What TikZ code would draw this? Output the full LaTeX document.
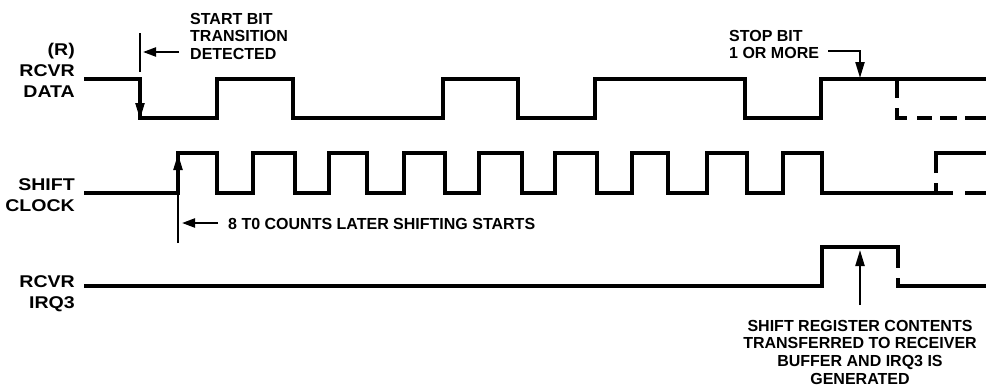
\documentclass[tikz,border=0pt]{standalone}
\usepackage{fontspec}
\setmainfont{Liberation Sans}
\newfontfamily\labfont{Liberation Sans}[FakeStretch=1.15]
\usetikzlibrary{arrows.meta}
\begin{document}
\begin{tikzpicture}[x=1pt,y=-1pt,
  wave/.style={line width=4pt},
  pointer/.style={line width=2.2pt},
  tipv/.style={-{Triangle[length=16pt,width=9pt]}},
  tiph/.style={-{Triangle[length=13pt,width=9pt]}},
  lab/.style={font=\labfont\bfseries\fontsize{17}{21}\selectfont, inner sep=0pt, align=right, anchor=north east},
  note/.style={font=\bfseries\fontsize{16}{17.6}\selectfont, inner sep=0pt, align=left, anchor=north west}]
\useasboundingbox (0,0) rectangle (986,386);

% labels
\node[lab] (ldata) at (75,43) {(R)\\RCVR\\DATA};
\node[lab] (lclk) at (75,178) {SHIFT\\CLOCK};
\node[lab] (lirq) at (75,275) {RCVR\\IRQ3};

% notes
\node[note] (nstart) at (190,13) {START BIT\\TRANSITION\\DETECTED};
\node[note] (nstop) at (729,30) {STOP BIT\\1 OR MORE};
\node[note] (nshift) at (228,218) {8 T0 COUNTS LATER SHIFTING STARTS};
\node[note, align=center, anchor=north] (nirq) at (860,320) {SHIFT REGISTER CONTENTS\\TRANSFERRED TO RECEIVER\\BUFFER AND IRQ3 IS\\GENERATED};

% RCVR DATA waveform
\draw[wave] (84,79) -- (140,79) -- (140,118) -- (217,118) -- (217,79) -- (293,79) -- (293,118)
  -- (443,118) -- (443,79) -- (518,79) -- (518,118) -- (595,118) -- (595,79) -- (745,79)
  -- (745,118) -- (821,118) -- (821,79) -- (986,79);
\draw[wave] (897,79) -- (897,98);
\draw[wave] (897,108) -- (897,118) -- (907,118);
\draw[wave] (917,118) -- (932,118);
\draw[wave] (940,118) -- (957,118);
\draw[wave] (965,118) -- (986,118);

% start bit pointer
\coordinate (sbtop) at (140,33);
\coordinate (sbmid) at (140,72);
\draw[pointer] (sbtop) -- (sbmid);
\draw[pointer,tipv] (140,80) -- (140,119);
\draw[pointer,tiph] (nstart.west |- 0,52) ++(-11,0) coordinate (sbarr) -- (143,52);

% stop bit pointer
\draw[pointer,tipv] (828,51) -- (860,51) -- (860,78);

% SHIFT CLOCK waveform
\draw[wave] (84,193) -- (178,193) -- (178,153) -- (217,153) -- (217,193) -- (253,193) -- (253,153)
  -- (295,153) -- (295,193) -- (329,193) -- (329,153) -- (367,153) -- (367,193) -- (404,193)
  -- (404,153) -- (445,153) -- (445,193) -- (479,193) -- (479,153) -- (522,153) -- (522,193)
  -- (555,193) -- (555,153) -- (597,153) -- (597,193) -- (632,193) -- (632,153) -- (668,153)
  -- (668,193) -- (707,193) -- (707,153) -- (747,153) -- (747,193) -- (783,193) -- (783,153)
  -- (822,153) -- (822,193) -- (953,193);
\draw[wave] (965,193) -- (986,193);
\draw[wave] (936,193) -- (936,183);
\draw[wave] (936,173) -- (936,153) -- (986,153);

% shift start pointer
\draw[pointer,tipv] (178,243) -- (178,154);
\draw[pointer,tiph] (218,223) -- (182,223);

% RCVR IRQ3 waveform
\draw[wave] (84,286) -- (822,286) -- (822,247) -- (898,247) -- (898,268);
\draw[wave] (898,278) -- (898,286) -- (986,286);

% IRQ pointer
\draw[pointer,tipv] (nirq.north |- 0,305) -- (860,250);
\end{tikzpicture}
\end{document}
